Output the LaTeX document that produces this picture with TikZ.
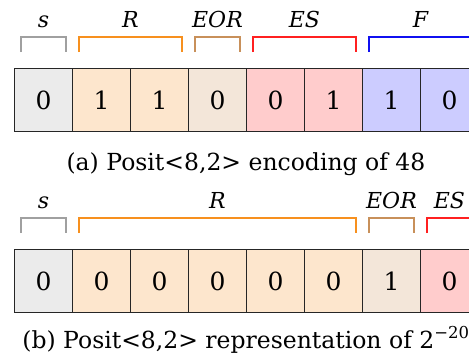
\documentclass[tikz,border=0pt]{standalone}
\usepackage{fontspec}
\setmainfont{DejaVu Serif}
\usetikzlibrary{calc}
\definecolor{sgray}{HTML}{EBEBEB}
\definecolor{rfill}{HTML}{FDE6CD}
\definecolor{eorfill}{HTML}{F3E6D9}
\definecolor{esfill}{HTML}{FFCCCC}
\definecolor{ffill}{HTML}{CCCCFF}
\definecolor{sline}{HTML}{A0A0A0}
\definecolor{rline}{HTML}{F7901E}
\definecolor{eorline}{HTML}{C8905A}
\definecolor{esline}{HTML}{FF2020}
\definecolor{fline}{HTML}{1010F0}
\begin{document}
\begin{tikzpicture}[x=1pt,y=-1pt,
  cell/.style={draw=black!85, line width=1pt, minimum width=58pt, minimum height=63pt,
    inner sep=0pt, anchor=north west, font=\fontsize{25}{27}\selectfont},
  brace/.style={line width=1.1pt},
  field/.style={anchor=base, font=\fontsize{22}{24}\selectfont\itshape},
  caption/.style={anchor=base, font=\fontsize{23.5}{26}\selectfont}]
\useasboundingbox (0,0) rectangle (469,360);
\clip (0,0) rectangle (469,360);
% bracket over cells #1..#2 in colour #3, label #4 named #5
\newcommand\fieldmark[5]{%
  \draw[brace,draw=#3] ($(#1.north west)+(7,-16)$) |- ($(#2.north east)+(-7,-31)$)
    -- ($(#2.north east)+(-7,-16)$);
  \node[field] (#5) at ($($(#1.north west)!0.5!(#2.north east)$)+(0,-41)$) {#4};}

% (a) encoding of 48
\node[cell,fill=sgray]   (a0) at (14,68) {0};
\node[cell,fill=rfill]   (a1) at (72,68) {1};
\node[cell,fill=rfill]   (a2) at (130,68) {1};
\node[cell,fill=eorfill] (a3) at (188,68) {0};
\node[cell,fill=esfill]  (a4) at (246,68) {0};
\node[cell,fill=esfill]  (a5) at (304,68) {1};
\node[cell,fill=ffill]   (a6) at (362,68) {1};
\node[cell,fill=ffill]   (a7) at (420,68) {0};
\fieldmark{a0}{a0}{sline}{s}{la0}
\fieldmark{a1}{a2}{rline}{R}{la1}
\fieldmark{a3}{a3}{eorline}{EOR}{la2}
\fieldmark{a4}{a5}{esline}{ES}{la3}
\fieldmark{a6}{a7}{fline}{F}{la4}
\node[caption] (capa) at (246,170) {(a) Posit<8,2> encoding of 48};

% (b) representation of 2^-20
\node[cell,fill=sgray]   (b0) at (14,249) {0};
\node[cell,fill=rfill]   (b1) at (72,249) {0};
\node[cell,fill=rfill]   (b2) at (130,249) {0};
\node[cell,fill=rfill]   (b3) at (188,249) {0};
\node[cell,fill=rfill]   (b4) at (246,249) {0};
\node[cell,fill=rfill]   (b5) at (304,249) {0};
\node[cell,fill=eorfill] (b6) at (362,249) {1};
\node[cell,fill=esfill]  (b7) at (420,249) {0};
\fieldmark{b0}{b0}{sline}{s}{lb0}
\fieldmark{b1}{b5}{rline}{R}{lb1}
\fieldmark{b6}{b6}{eorline}{EOR}{lb2}
\fieldmark{b7}{b7}{esline}{ES}{lb3}
\node[caption] (capb) at (246,348) {(b) Posit<8,2> representation of 2\textsuperscript{−20}};
\end{tikzpicture}
\end{document}
